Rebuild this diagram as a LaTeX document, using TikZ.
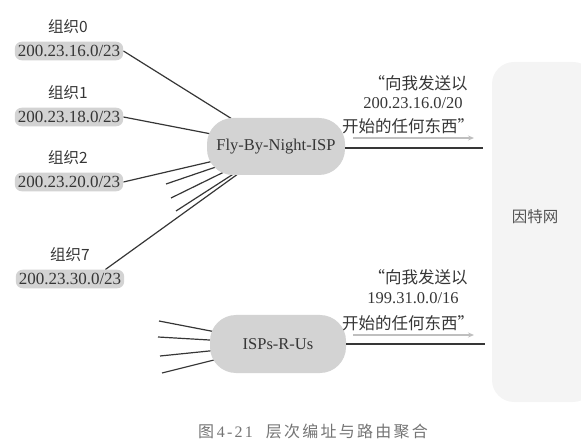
\documentclass[tikz,border=0pt]{standalone}
\usepackage{fontspec}
\setmainfont{Liberation Serif}
\newfontfamily\cjk{Noto Sans CJK SC}
\newfontfamily\cjkcap[LetterSpace=14]{Noto Sans CJK SC}
\newfontfamily\latcap[LetterSpace=14]{Liberation Serif}
\usetikzlibrary{backgrounds,arrows.meta}
\definecolor{boxgray}{HTML}{D3D3D3}
\definecolor{txt}{HTML}{363636}
\definecolor{inet}{HTML}{F4F4F4}
\definecolor{capgray}{HTML}{747474}
\begin{document}
\begin{tikzpicture}[x=1pt,y=-1pt,
  org/.style={fill=boxgray,rounded corners=7pt,inner xsep=3pt,inner ysep=3.5pt,
    font=\fontsize{17}{19}\selectfont,text=txt},
  lbl/.style={font=\fontsize{15.5}{17}\selectfont\cjk,text=txt},
  msgz/.style={font=\fontsize{16.5}{18}\selectfont\cjk,text=txt,inner sep=0pt},
  msgn/.style={font=\fontsize{16.5}{18}\selectfont,text=txt,inner sep=0pt},
  isp/.style={rectangle,rounded corners=26pt,fill=boxgray,
    font=\fontsize{16.5}{19}\selectfont,text=txt,inner sep=0pt},
  wire/.style={line width=1.2pt,draw=txt},
  adv/.style={line width=1.6pt,draw=gray!50,-{Stealth[length=6pt,width=5pt]}}]
\useasboundingbox (0,0) rectangle (581,446);
% internet area
\fill[inet,rounded corners=22pt] (492,62) rectangle (595,402);
\node[font=\fontsize{15.5}{17}\selectfont\cjk,text=txt!85] (inettxt) at (535,217) {因特网};

% organisations
\node[lbl] (l0) at (68,27) {组织0};
\node[org] (o0) at (69,51) {200.23.16.0/23};
\node[lbl] (l1) at (68,93) {组织1};
\node[org] (o1) at (69,117) {200.23.18.0/23};
\node[lbl] (l2) at (68,158) {组织2};
\node[org] (o2) at (69,182) {200.23.20.0/23};
\node[lbl] (l7) at (70,255) {组织7};
\node[org] (o7) at (70,279) {200.23.30.0/23};

% ISPs
\node[isp,minimum width=138pt,minimum height=57pt] (fly) at (276,146.5) {Fly-By-Night-ISP};
\node[isp,minimum width=136pt,minimum height=58pt] (rus) at (278,344) {ISPs-R-Us};

% free ends
\coordinate (f1) at (166,184);
\coordinate (f2) at (171,198);
\coordinate (f3) at (176,211);
\coordinate (g1) at (159,321);
\coordinate (g2) at (158,337);
\coordinate (g3) at (160,356);
\coordinate (g4) at (162,373);
\coordinate (e1) at (483,148);
\coordinate (e2) at (485,344);
\coordinate (a1s) at (353,138);
\coordinate (a1e) at (474,138);
\coordinate (a2s) at (353,335);
\coordinate (a2e) at (474,335);

\begin{pgfonlayer}{background}
  \draw[wire] (o0.east) -- (fly.center);
  \draw[wire] (o1.east) -- (fly.center);
  \draw[wire] (o2.east) -- (fly.center);
  \draw[wire] (o7.15) -- (fly.center);
  \draw[wire] (f1) -- (fly.center);
  \draw[wire] (f2) -- (fly.center);
  \draw[wire] (f3) -- (fly.center);
  \draw[wire] (g1) -- (rus.center);
  \draw[wire] (g2) -- (rus.center);
  \draw[wire] (g3) -- (rus.center);
  \draw[wire] (g4) -- (rus.center);
\end{pgfonlayer}

\draw[wire] (fly.east |- e1) -- (e1);
\draw[wire] (rus.east |- e2) -- (e2);
\draw[adv] (a1s) -- (a1e);
\draw[adv] (a2s) -- (a2e);

% messages
\node[msgz] (m1a) at (418,83) {“向我发送以};
\node[msgn] (m1b) at (413,103) {200.23.16.0/20};
\node[msgz] (m1c) at (408,126) {开始的任何东西”};
\node[msgz] (m2a) at (418,277) {“向我发送以};
\node[msgn] (m2b) at (413,298) {199.31.0.0/16};
\node[msgz] (m2c) at (408,323) {开始的任何东西”};

% caption
\node[font=\fontsize{16}{18}\selectfont,text=capgray,inner sep=0pt] (cap) at (313,431)
  {{\cjkcap 图}\,{\latcap 4-21}\hspace{13pt}{\cjkcap 层次编址与路由聚合}};
\end{tikzpicture}
\end{document}
